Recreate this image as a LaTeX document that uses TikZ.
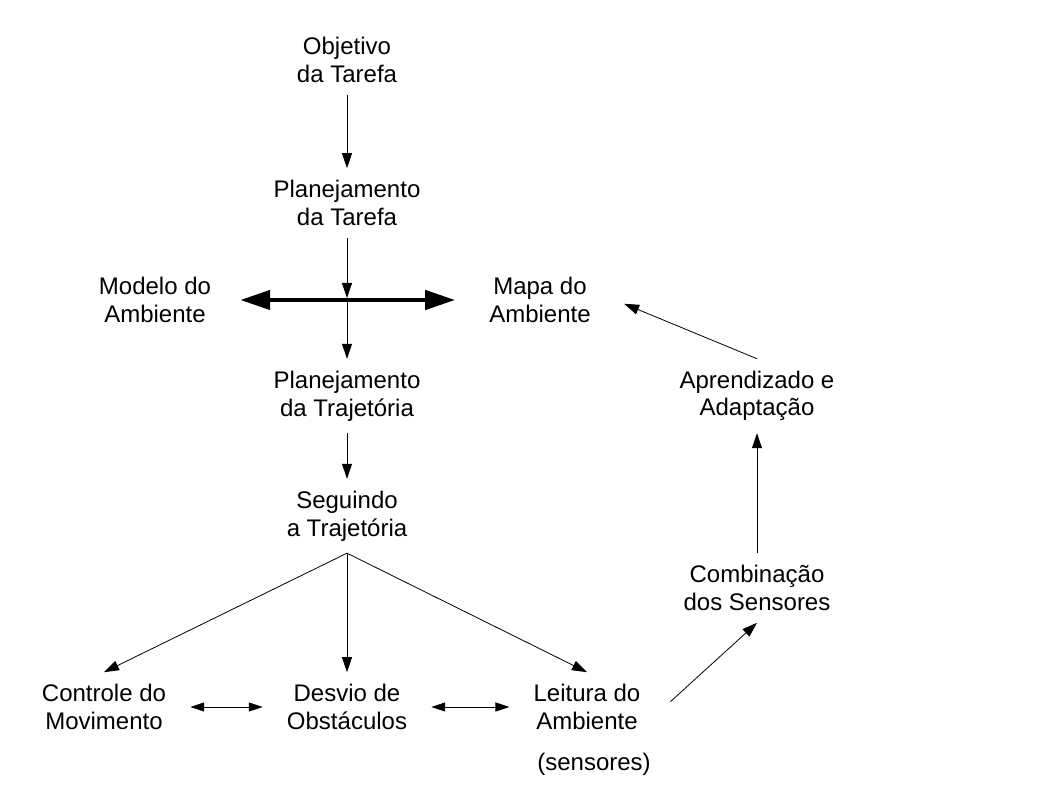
\documentclass[tikz,border=0pt]{standalone}
\usepackage{fontspec}
\setmainfont{Liberation Sans}
\usetikzlibrary{arrows.meta}

\begin{document}
\begin{tikzpicture}
  [x=1pt,y=-1pt,font=\fontsize{24}{27.6}\selectfont,
   every node/.style={align=center,inner xsep=24pt,inner ysep=12pt},
   seta/.style={-{Triangle[length=15pt,width=10pt]},line width=0.8pt},
   dupla/.style={{Triangle[length=14pt,width=9pt]}-{Triangle[length=14pt,width=9pt]},line width=0.8pt},
   grossa/.style={{Triangle[length=30pt,width=19pt]}-{Triangle[length=30pt,width=19pt]},line width=4.5pt}]
  \useasboundingbox (0,0) rectangle (1058,794);
  \node (obj) at (347,60) {Objetivo\\da Tarefa};
  \node (ptar) at (347,203) {Planejamento\\da Tarefa};
  \node (mod) at (155,300) {Modelo do\\Ambiente};
  \node (mapa) at (540,300) {Mapa do\\Ambiente};
  \node (ptraj) at (347,396) {Planejamento\\da Trajetória};
  \node (seg) at (347,516) {Seguindo\\a Trajetória};
  \node (ctrl) at (104,707) {Controle do\\Movimento};
  \node (desv) at (347,707) {Desvio de\\Obstáculos};
  \node (leit) at (587,707) {Leitura do\\Ambiente};
  \node (sens) at (594,764) {(sensores)};
  \node (comb) at (757,588) {Combinação\\dos Sensores};
  \node (apr) at (757,396) {Aprendizado e\\Adaptação};
  \coordinate (cruz) at (347,298);

  \foreach \from/\to in {obj/ptar,ptraj/seg,comb/apr}
    \draw[seta] (\from) -- (\to);
  \draw[seta] (ptar) -- (cruz);
  \draw[seta] (cruz) -- (ptraj);
  \draw[grossa,shorten <=5pt,shorten >=10pt] (mod.east) -- (mapa.west);
  \foreach \to in {ctrl,desv,leit}
    \draw[seta] (seg.south) -- (\to.north);
  \draw[dupla] (ctrl) -- (desv);
  \draw[dupla] (desv) -- (leit);
  \draw[seta,shorten <=8pt] (leit.east) -- (comb.south);
  \draw[seta,shorten >=10pt] (apr.north) -- (mapa.east);
\end{tikzpicture}
\end{document}
